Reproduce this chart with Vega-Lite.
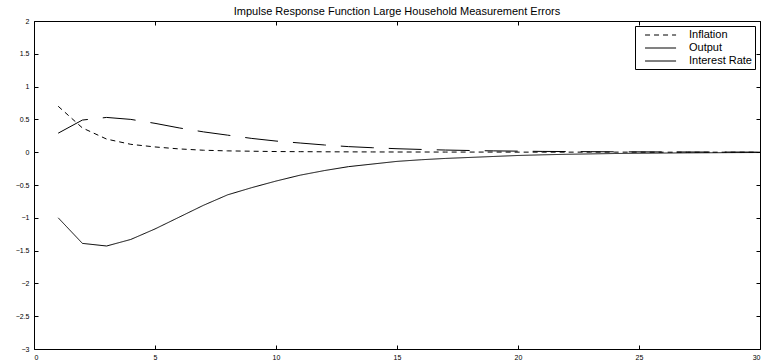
{
  "$schema": "https://vega.github.io/schema/vega-lite/v6.json",
  "width": 726,
  "height": 328,
  "autosize": {"type": "none"},
  "padding": {"left": 34, "top": 21, "right": 2, "bottom": 15},
  "title": {"text": "Impulse Response Function Large Household Measurement Errors", "fontSize": 11, "fontWeight": "normal", "font": "Liberation Sans", "color": "black", "anchor": "middle", "offset": 0},
  "data": {"values": [
    {"t":1,"series":"Inflation","v":0.70},{"t":2,"series":"Inflation","v":0.37},{"t":3,"series":"Inflation","v":0.20},{"t":4,"series":"Inflation","v":0.12},{"t":5,"series":"Inflation","v":0.08},{"t":6,"series":"Inflation","v":0.05},{"t":7,"series":"Inflation","v":0.03},{"t":8,"series":"Inflation","v":0.02},{"t":9,"series":"Inflation","v":0.015},{"t":10,"series":"Inflation","v":0.01},{"t":11,"series":"Inflation","v":0.008},{"t":12,"series":"Inflation","v":0.006},{"t":13,"series":"Inflation","v":0.005},{"t":14,"series":"Inflation","v":0.004},{"t":15,"series":"Inflation","v":0.003},{"t":16,"series":"Inflation","v":0.003},{"t":17,"series":"Inflation","v":0.002},{"t":18,"series":"Inflation","v":0.002},{"t":19,"series":"Inflation","v":0.002},{"t":20,"series":"Inflation","v":0.001},{"t":21,"series":"Inflation","v":0.001},{"t":22,"series":"Inflation","v":0.001},{"t":23,"series":"Inflation","v":0.001},{"t":24,"series":"Inflation","v":0.001},{"t":25,"series":"Inflation","v":0.001},{"t":26,"series":"Inflation","v":0.0},{"t":27,"series":"Inflation","v":0.0},{"t":28,"series":"Inflation","v":0.0},{"t":29,"series":"Inflation","v":0.0},{"t":30,"series":"Inflation","v":0.0},
    {"t":1,"series":"Output","v":-1.00},{"t":2,"series":"Output","v":-1.39},{"t":3,"series":"Output","v":-1.43},{"t":4,"series":"Output","v":-1.33},{"t":5,"series":"Output","v":-1.17},{"t":6,"series":"Output","v":-0.99},{"t":7,"series":"Output","v":-0.81},{"t":8,"series":"Output","v":-0.65},{"t":9,"series":"Output","v":-0.54},{"t":10,"series":"Output","v":-0.44},{"t":11,"series":"Output","v":-0.35},{"t":12,"series":"Output","v":-0.28},{"t":13,"series":"Output","v":-0.22},{"t":14,"series":"Output","v":-0.18},{"t":15,"series":"Output","v":-0.14},{"t":16,"series":"Output","v":-0.115},{"t":17,"series":"Output","v":-0.095},{"t":18,"series":"Output","v":-0.08},{"t":19,"series":"Output","v":-0.065},{"t":20,"series":"Output","v":-0.05},{"t":21,"series":"Output","v":-0.04},{"t":22,"series":"Output","v":-0.032},{"t":23,"series":"Output","v":-0.026},{"t":24,"series":"Output","v":-0.02},{"t":25,"series":"Output","v":-0.016},{"t":26,"series":"Output","v":-0.013},{"t":27,"series":"Output","v":-0.01},{"t":28,"series":"Output","v":-0.008},{"t":29,"series":"Output","v":-0.006},{"t":30,"series":"Output","v":-0.005},
    {"t":1,"series":"Interest Rate","v":0.29},{"t":2,"series":"Interest Rate","v":0.49},{"t":3,"series":"Interest Rate","v":0.53},{"t":4,"series":"Interest Rate","v":0.50},{"t":5,"series":"Interest Rate","v":0.44},{"t":6,"series":"Interest Rate","v":0.37},{"t":7,"series":"Interest Rate","v":0.31},{"t":8,"series":"Interest Rate","v":0.26},{"t":9,"series":"Interest Rate","v":0.21},{"t":10,"series":"Interest Rate","v":0.17},{"t":11,"series":"Interest Rate","v":0.14},{"t":12,"series":"Interest Rate","v":0.11},{"t":13,"series":"Interest Rate","v":0.085},{"t":14,"series":"Interest Rate","v":0.068},{"t":15,"series":"Interest Rate","v":0.053},{"t":16,"series":"Interest Rate","v":0.042},{"t":17,"series":"Interest Rate","v":0.033},{"t":18,"series":"Interest Rate","v":0.026},{"t":19,"series":"Interest Rate","v":0.02},{"t":20,"series":"Interest Rate","v":0.016},{"t":21,"series":"Interest Rate","v":0.012},{"t":22,"series":"Interest Rate","v":0.01},{"t":23,"series":"Interest Rate","v":0.008},{"t":24,"series":"Interest Rate","v":0.006},{"t":25,"series":"Interest Rate","v":0.005},{"t":26,"series":"Interest Rate","v":0.004},{"t":27,"series":"Interest Rate","v":0.003},{"t":28,"series":"Interest Rate","v":0.002},{"t":29,"series":"Interest Rate","v":0.002},{"t":30,"series":"Interest Rate","v":0.001}
  ]},
  "layer": [
    {
      "mark": {"type": "line", "color": "black", "strokeWidth": 1},
      "encoding": {
        "x": {"field": "t", "type": "quantitative", "scale": {"domain": [0, 30], "nice": false, "zero": false},
              "axis": {"orient": "bottom", "values": [0,5,10,15,20,25,30], "title": null, "labelPadding": 8}},
        "y": {"field": "v", "type": "quantitative", "scale": {"domain": [-3, 2], "nice": false, "zero": false},
              "axis": {"orient": "left", "values": [-3,-2.5,-2,-1.5,-1,-0.5,0,0.5,1,1.5,2], "format": "~g", "title": null, "labelPadding": 9}},
        "strokeDash": {"field": "series", "type": "nominal",
              "scale": {"domain": ["Inflation", "Output", "Interest Rate"], "range": [[5,4],[1,0],[33,15]]},
              "legend": {"title": null}}
      }
    },
    {
      "mark": {"type": "line", "opacity": 0},
      "encoding": {
        "x": {"field": "t", "type": "quantitative", "axis": {"orient": "top", "values": [0,5,10,15,20,25,30], "labels": false, "title": null}},
        "y": {"field": "v", "type": "quantitative", "axis": {"orient": "right", "values": [-3,-2.5,-2,-1.5,-1,-0.5,0,0.5,1,1.5,2], "labels": false, "title": null}},
        "detail": {"field": "series", "type": "nominal"}
      }
    }
  ],
  "resolve": {"axis": {"x": "independent", "y": "independent"}},
  "config": {
    "view": {"stroke": null},
    "axis": {"grid": false, "domainColor": "black", "domainWidth": 1, "tickColor": "black", "tickSize": -4, "tickWidth": 1,
             "labelFont": "Liberation Sans", "labelFontSize": 7, "labelColor": "black"},
    "legend": {"orient": "top-right", "offset": 5, "symbolType": "M0.2,0H6.2", "symbolSize": 107, "symbolStrokeColor": "black", "symbolStrokeWidth": 1,
               "labelFont": "Liberation Sans", "labelFontSize": 11, "labelColor": "black", "strokeColor": "black", "fillColor": "white",
               "padding": 3, "rowPadding": 2, "labelOffset": 39}
  }
}
